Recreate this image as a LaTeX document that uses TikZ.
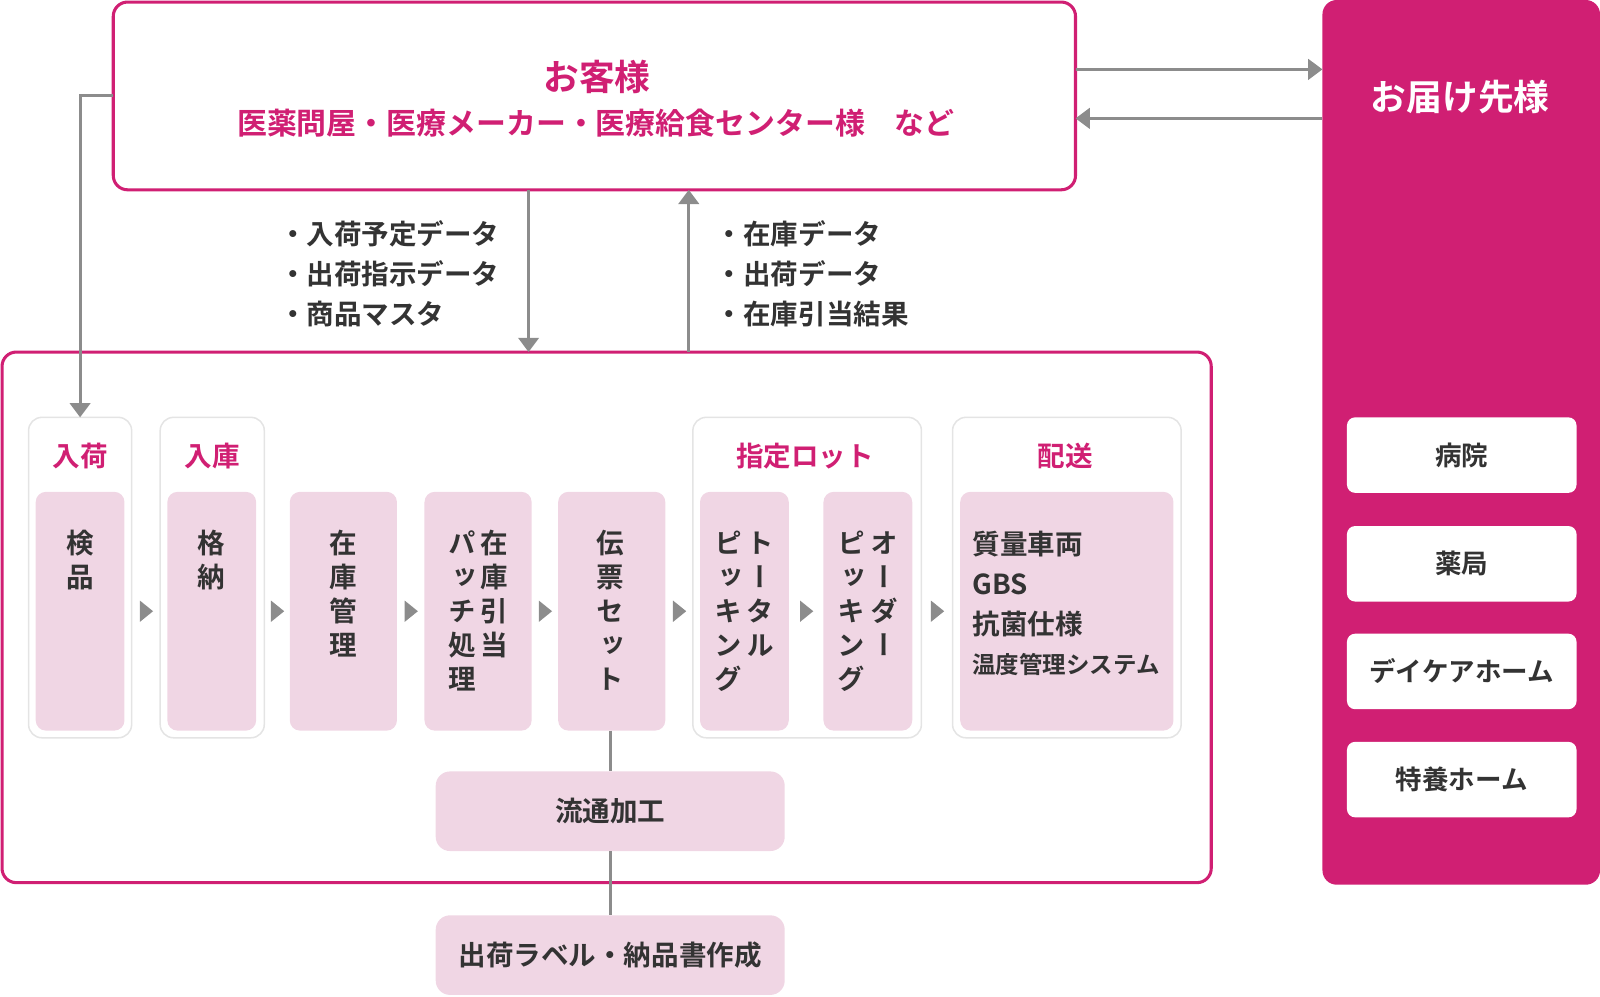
\documentclass[tikz,border=0pt]{standalone}
\usepackage{fontspec}
\setmainfont{Noto Sans CJK JP}[BoldFont={* Bold}]
\newfontfamily\tatefont{Noto Sans CJK JP}[BoldFont={* Bold},RawFeature={+vert}]
\usetikzlibrary{arrows.meta,calc}
\definecolor{mag}{HTML}{D01F73}
\definecolor{lpink}{HTML}{F0D6E4}
\definecolor{gry}{HTML}{8C8C8C}
\definecolor{edge}{HTML}{E4E4E4}
\definecolor{ink}{HTML}{333333}
\newcommand{\tcol}[1]{\begin{tabular}[t]{@{}c@{}}#1\end{tabular}}
\newcommand{\fsz}[2]{\fontsize{#1}{#2}\selectfont}
\begin{document}
\begin{tikzpicture}[x=1pt, y=-1pt,
    every node/.style={inner sep=0pt, outer sep=0pt, text=ink},
    pinkbox/.style={draw=mag, line width=3pt, rounded corners=14pt},
    grp/.style={draw=edge, line width=1.5pt, rounded corners=13pt, minimum height=314pt},
    proc/.style={fill=lpink, rounded corners=10pt, minimum height=234pt},
    subproc/.style={fill=lpink, rounded corners=14pt, minimum width=342pt, minimum height=78pt, font=\bfseries\fsz{27}{33}},
    place/.style={fill=white, rounded corners=8pt, minimum width=225pt, minimum height=74pt, font=\bfseries\fsz{26}{32}},
    grphead/.style={text=mag, font=\bfseries\fsz{27}{33}},
    tate/.style={anchor=north, font=\tatefont\bfseries\fsz{27}{33.3}},
    lbl/.style={anchor=north west, align=left, font=\bfseries\fsz{27}{39}},
    link/.style={draw=gry, line width=3pt},
    arr/.style={link, -{Triangle[length=14pt,width=20pt]}},
    tri/.style={fill=gry}]
  \useasboundingbox (0,0) rectangle (1568,977);

  \node[pinkbox, minimum width=943pt, minimum height=184pt] (client) at (582.5,94) {};
  \node[text=mag, font=\bfseries\fsz{35}{40}] (client-t) at (585,75) {お客様};
  \node[text=mag, font=\bfseries\fsz{29.3}{34}] (client-s) at (584,121) {医薬問屋・医療メーカー・医療給食センター様　など};

  \node[fill=mag, rounded corners=14pt, minimum width=272pt, minimum height=867pt] (dest) at (1432,433.5) {};
  \node[text=white, font=\bfseries\fsz{35}{40}] (dest-t) at (1431,95) {お届け先様};
  \node[place] (hosp) at (1432.5,446) {病院};
  \node[place] (pharm) at (1432.5,552.5) {薬局};
  \node[place] (daycare) at (1432.5,658) {デイケアホーム};
  \node[place] (nursing) at (1432.5,764) {特養ホーム};

  \node[pinkbox, minimum width=1185pt, minimum height=520pt] (wh) at (594.5,605) {};
  \node[grp, minimum width=101pt] (g-nyuka) at (78.5,566) {};
  \node[grp, minimum width=102pt] (g-nyuko) at (208,566) {};
  \node[grp, minimum width=224pt] (g-lot) at (791,566) {};
  \node[grp, minimum width=224pt] (g-haiso) at (1045.5,566) {};
  \node[grphead] (h-nyuka) at (78.5,447) {入荷};
  \node[grphead] (h-nyuko) at (208,447) {入庫};
  \node[grphead] (h-lot) at (789,447) {指定ロット};
  \node[grphead] (h-haiso) at (1044,447) {配送};

  \node[proc, minimum width=87pt] (kenpin) at (78.5,599) {};
  \node[proc, minimum width=87pt] (kakuno) at (207.5,599) {};
  \node[proc, minimum width=105pt] (zaiko) at (336.5,599) {};
  \node[proc, minimum width=105pt] (hikiate) at (468.5,599) {};
  \node[proc, minimum width=105pt] (denpyo) at (599.5,599) {};
  \node[proc, minimum width=87pt] (total) at (729.5,599) {};
  \node[proc, minimum width=87pt] (order) at (850.5,599) {};
  \node[proc, minimum width=209pt] (haiso) at (1045.5,599) {};

  \node[tate] (kenpin-t) at (79,519.5) {\tcol{検\\品}};
  \node[tate] (kakuno-t) at (207.5,519.5) {\tcol{格\\納}};
  \node[tate] (zaiko-t) at (336.5,519.5) {\tcol{在\\庫\\管\\理}};
  \node[tate] (hikiate-t) at (468.5,519.5) {\tcol{パ\\ッ\\チ\\処\\理}\hspace{4pt}\tcol{在\\庫\\引\\当}};
  \node[tate] (denpyo-t) at (598,519.5) {\tcol{伝\\票\\セ\\ッ\\ト}};
  \node[tate] (total-t) at (729.5,519.5) {\tcol{ピ\\ッ\\キ\\ン\\グ}\hspace{5pt}\tcol{ト\\ー\\タ\\ル}};
  \node[tate] (order-t) at (850.5,519.5) {\tcol{ピ\\ッ\\キ\\ン\\グ}\hspace{5pt}\tcol{オ\\ー\\ダ\\ー}};
  \node[lbl] (haiso-t) at (953,520.5) {質量車両\\GBS\\抗菌仕様\\{\fsz{23}{39}温度管理システム}};

  \node[lbl] (in-data) at (273.5,216.5) {・入荷予定データ\\・出荷指示データ\\・商品マスタ};
  \node[lbl] (out-data) at (701.5,216.5) {・在庫データ\\・出荷データ\\・在庫引当結果};

  \node[subproc] (ryutsu) at (598,795) {流通加工};
  \node[subproc] (slip) at (598,936) {出荷ラベル・納品書作成};

  \draw[arr] (client.east |- 0,68) -- (dest.west |- 0,68);
  \draw[arr] (dest.west |- 0,116) -- (client.east |- 0,116);
  \draw[arr] (client.south -| 518,0) -- (wh.north -| 518,0);
  \draw[arr] (wh.north -| 675,0) -- (client.south -| 675,0);
  \draw[arr] (client.west) -| (g-nyuka.north);
  \draw[link] (ryutsu.north |- denpyo.south) -- (ryutsu.north);
  \draw[link] (ryutsu.south) -- (slip.north);

  \foreach \a/\b in {g-nyuka/g-nyuko, g-nyuko/zaiko, zaiko/hikiate, hikiate/denpyo, denpyo/g-lot, total/order, g-lot/g-haiso} {
    \coordinate (m) at ($(\a.east)!.5!(\b.west)$);
    \fill[tri] (m |- kenpin) +(-6,-10.5) -- +(7,0) -- +(-6,10.5) -- cycle;
  }
\end{tikzpicture}
\end{document}
